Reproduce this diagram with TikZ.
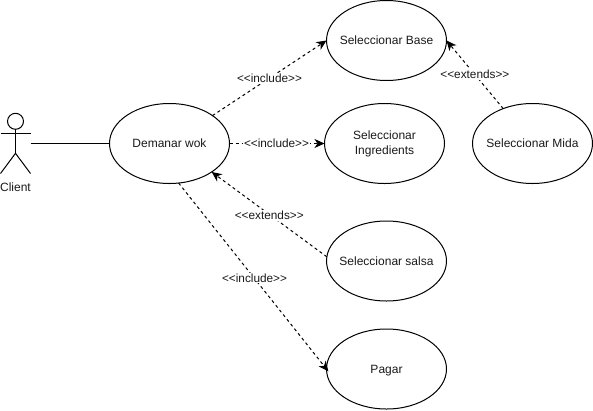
\documentclass[tikz,border=0pt]{standalone}
\usepackage{fontspec}
\setmainfont{Liberation Sans}
\usetikzlibrary{shapes.geometric,arrows.meta}
\tikzset{
  usecase/.style={draw=black,ellipse,line width=1pt,minimum width=120pt,minimum height=80pt,inner sep=0pt,outer sep=0pt,align=center,font=\fontsize{12pt}{15pt}\selectfont,text=black!90},
  dep/.style={draw=black,line width=1pt,dash pattern=on 3pt off 3pt,-{Stealth[length=10pt,width=9pt,inset=3pt]}},
  deplabel/.style={fill=white,inner sep=1pt,font=\fontsize{11.8pt}{14pt}\selectfont,text=black!90},
  stick/.style={draw=black,line width=1pt}
}
\begin{document}
\begin{tikzpicture}[x=1pt,y=-1pt]
\useasboundingbox (0,0) rectangle (593,410);
\node[usecase] (wok) at (169.5,143.5) {\makebox[0pt]{Demanar wok}};
\node[usecase] (base) at (386.5,40.5) {\makebox[0pt]{Seleccionar Base}};
\node[usecase] (ingr) at (384.5,143.5) {Seleccionar\\Ingredients};
\node[usecase] (mida) at (532.5,143.5) {\makebox[0pt]{Seleccionar Mida}};
\node[usecase] (salsa) at (386.5,261) {\makebox[0pt]{Seleccionar salsa}};
\node[usecase,text height=8.6pt,text depth=0pt] (pagar) at (386.5,369) {\makebox[0pt]{Pagar}};
\node[minimum width=30pt,minimum height=60pt,inner sep=0pt,outer sep=0pt] (actor) at (15.5,143.5) {};
\node[draw=black,circle,line width=1pt,minimum size=16pt,inner sep=0pt,outer sep=0pt] (head) at (15.5,121.3) {};
\coordinate (hip) at (15.5,153.3);
\draw[stick] (head.south) -- (hip);
\draw[stick] (0.5,133.3) -- (30.5,133.3);
\draw[stick] (actor.south west) -- (hip) -- (actor.south east);
\node[font=\fontsize{12pt}{14pt}\selectfont,text=black!90,inner sep=0pt] (client) at (15.5,187) {Client};
\draw[stick] (actor.east) -- (wok.west);
\draw[dep] (wok.33) -- node[deplabel] {<{}<include>{}>} (base.west);
\draw[dep] (wok.east) -- node[deplabel,xshift=-0.5pt] {<{}<include>{}>} (ingr.west);
\draw[dep] (mida.130) -- node[deplabel] {<{}<extends>{}>} (base.east);
\draw[dep] (salsa.176) -- node[deplabel,yshift=-1pt] {<{}<extends>{}>} (wok.-34);
\draw[dep,shorten >=-3pt] (wok.-77) -- node[deplabel,pos=.51,xshift=0.5pt] {<{}<include>{}>} (pagar.west);
\end{tikzpicture}
\end{document}
